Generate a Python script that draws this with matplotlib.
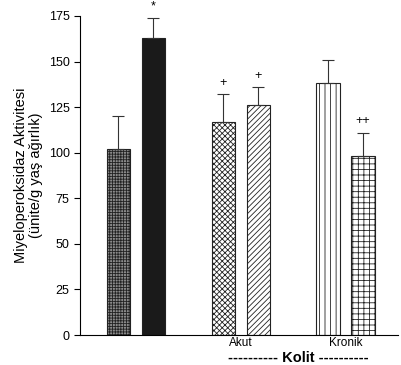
import matplotlib
matplotlib.use("Agg")
import matplotlib.pyplot as plt

plt.rcParams['font.family'] = ['Liberation Sans', 'DejaVu Sans']
plt.rcParams['hatch.linewidth'] = 0.6

# values
positions = [0, 1, 3, 4, 6, 7]
means = [102, 163, 117, 126, 138, 98]
errors = [18, 11, 15, 10, 13, 13]
marks = ['', '*', '+', '+', '', '++']
hatches = ['++++++', '', 'xxxxxx', '//////', '|||', '+++']
faces = ['#8c8c8c', '#1a1a1a', 'white', 'white', 'white', 'white']
group_labels = ['Akut', 'Kronik']
group_pos = [3.5, 6.5]
yticks = [0, 25, 50, 75, 100, 125, 150, 175]

fig = plt.figure(figsize=(4.02, 3.65), dpi=100)
ax = fig.add_axes([80 / 402, 1 - 335 / 365, 318 / 402, 319 / 365])

for x, m, e, h, fc, mk in zip(positions, means, errors, hatches, faces, marks):
    ax.bar(x, m, width=0.66, color=fc, edgecolor='#222222', hatch=h, linewidth=0.8)
    ax.errorbar(x, m, yerr=[[0], [e]], fmt='none', ecolor='#333333', elinewidth=0.8,
                capsize=4, capthick=0.8)
    if mk:
        ax.text(x, m + e + 3, mk, ha='center', va='bottom', fontsize=9)

ax.set_xlim(-1.09, 8.0)
ax.set_ylim(0, 175)
ax.set_yticks(yticks)
ax.set_xticks([])
ax.tick_params(axis='y', labelsize=9, length=4, direction='out')
ax.spines['top'].set_visible(False)
ax.spines['right'].set_visible(False)
ax.set_ylabel('Miyeloperoksidaz Aktivitesi\n(ünite/g yaş ağırlık)', fontsize=10.5,
              labelpad=4, linespacing=1.1)

for gx, gl in zip(group_pos, group_labels):
    ax.text(gx, -0.007, gl, transform=ax.get_xaxis_transform(), ha='center',
            va='top', fontsize=8.5)
ax.text(5.14, -0.072, '---------- Kolit ----------', transform=ax.get_xaxis_transform(),
        ha='center', va='center', fontsize=10.5, fontweight='bold')

fig.savefig('out.png', dpi=100)
